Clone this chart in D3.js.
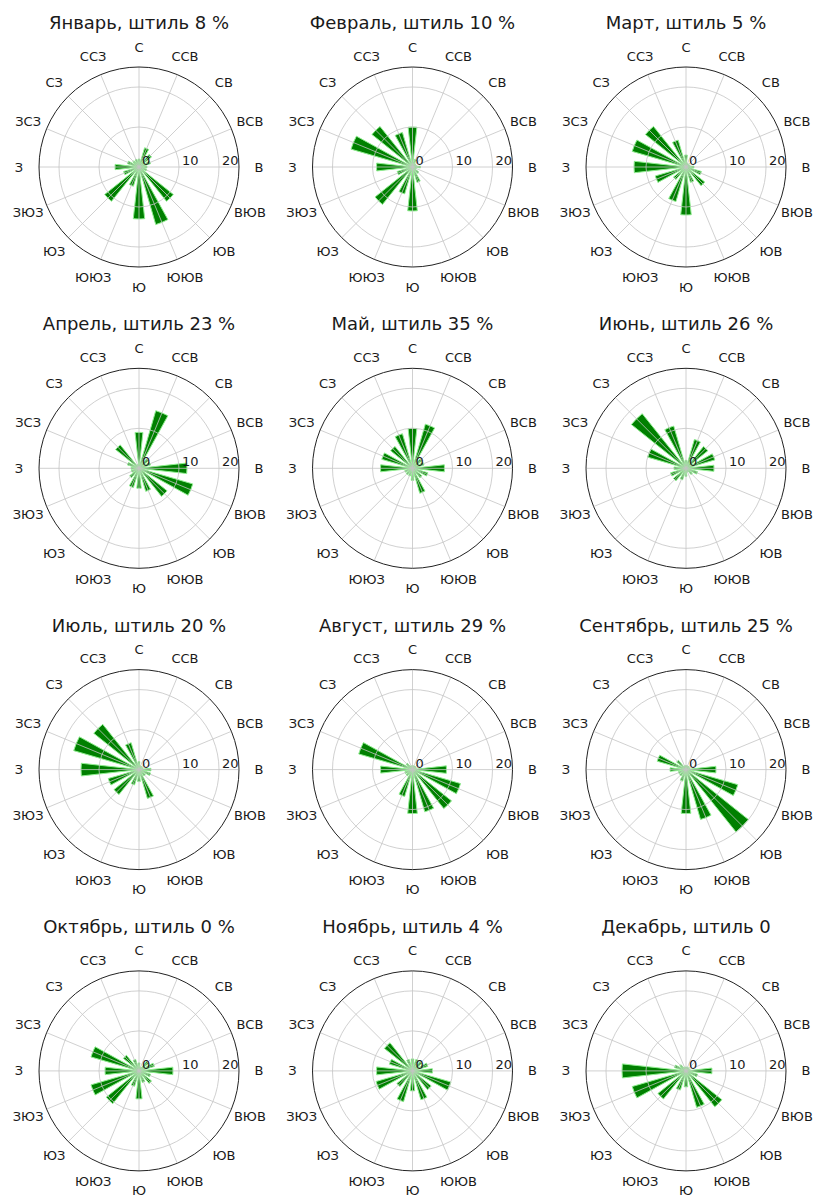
<!DOCTYPE html>
<html>
<head>
<meta charset="utf-8">
<script src="https://cdn.jsdelivr.net/npm/d3@7"></script>
<style>
  html, body { margin: 0; padding: 0; background: #fff; }
  text { font-family: "DejaVu Sans", sans-serif; fill: #1a1a1a; }
</style>
</head>
<body>
<svg id="chart" width="814" height="1198"></svg>
<script>
const directions = ["С","ССВ","СВ","ВСВ","В","ВЮВ","ЮВ","ЮЮВ","Ю","ЮЮЗ","ЮЗ","ЗЮЗ","З","ЗСЗ","СЗ","ССЗ"];
const months = ["Январь","Февраль","Март","Апрель","Май","Июнь","Июль","Август","Сентябрь","Октябрь","Ноябрь","Декабрь"];
const calmLabels = ["8 %","10 %","5 %","23 %","35 %","26 %","20 %","29 %","25 %","0 %","4 %","0"];
const radialTicks = [0, 10, 20];

const jan = [2, 5, 4, 3, 2, 2, 11, 15, 13, 5, 11, 4, 6, 3, 2, 2];
const feb = [10, 2, 1, 1, 2, 1, 2, 4, 11, 7, 12, 4, 9, 16, 13, 9];
const mar = [3, 1, 1, 1, 2, 4, 6, 4, 12, 9, 4, 8, 13, 14, 13, 7];
const apr = [9, 15, 3, 3, 12, 14, 9, 6, 5, 5, 3, 2, 2, 3, 7.5, 1];
const may = [10, 11.5, 3, 3, 8, 4, 3, 6.5, 3, 2, 2, 2, 8, 8, 7, 9];
const jun = [2, 7.5, 7, 7.5, 7, 3, 2, 1, 2, 3, 4, 4, 3, 10, 17.5, 11];
const jul = [2, 1, 1, 1, 3, 3, 2, 7.5, 3, 4, 8, 8, 14.5, 17, 14.5, 7];
const aug = [1, 1, 1, 1, 8.5, 12.5, 12.5, 11, 11, 7, 2, 2, 8, 14, 2, 1];
const sep = [1, 1, 1, 1, 7.5, 13.5, 20, 13, 11, 3, 2, 2, 4, 7.5, 3, 1];
const oct = [2, 1, 3, 4, 8.5, 3, 4, 3, 7, 4, 10.5, 12.5, 8.5, 12.5, 5, 3];
const nov = [3, 3, 3, 4, 5, 10, 6, 7.5, 5, 8, 5, 9.5, 9, 6, 9, 3];
const dec = [1, 1, 1, 1, 6.5, 3, 11.5, 9.5, 4, 5, 9, 14, 16, 3, 2, 1];

const monthValues = [jan, feb, mar, apr, may, jun, jul, aug, sep, oct, nov, dec];

const svg = d3.select("#chart");
const R = 100;
const rMax = 25;
const r = d3.scaleLinear().domain([0, rMax]).range([0, R]);
const angle = d3.scaleBand().domain(directions).range([0, 2 * Math.PI]);
const step = 2 * Math.PI / directions.length;
const barWidth = step * 0.56;
const theta = d => angle(d);

const arc = d3.arc()
  .innerRadius(0)
  .outerRadius(d => r(d.v))
  .startAngle(d => theta(d.dir) - barWidth / 2)
  .endAngle(d => theta(d.dir) + barWidth / 2);

months.forEach((m, i) => {
  const col = i % 3, row = Math.floor(i / 3);
  const cx = 139 + col * 273.5;
  const cy = 167 + row * 301.3;
  const g = svg.append("g").attr("transform", `translate(${cx},${cy})`);

  const data = directions.map((dir, k) => ({dir, v: monthValues[i][k]}));

  g.selectAll("path.bar").data(data).enter().append("path")
    .attr("class", "bar")
    .attr("d", arc)
    .attr("fill", "#008000")
    .attr("stroke", "#90ee90")
    .attr("stroke-width", 1);

  g.selectAll("circle.grid").data(radialTicks.filter(t => t > 0)).enter().append("circle")
    .attr("r", d => r(d))
    .attr("fill", "none")
    .attr("stroke", "#c4c4c4")
    .attr("stroke-width", 0.8);

  g.selectAll("line.spoke").data(directions).enter().append("line")
    .attr("x1", 0).attr("y1", 0)
    .attr("x2", d => R * Math.sin(theta(d)))
    .attr("y2", d => -R * Math.cos(theta(d)))
    .attr("stroke", "#c4c4c4")
    .attr("stroke-width", 0.8);

  g.append("circle")
    .attr("r", R)
    .attr("fill", "none")
    .attr("stroke", "#222")
    .attr("stroke-width", 1);

  g.selectAll("text.rtick").data(radialTicks).enter().append("text")
    .attr("x", d => r(d) + 3)
    .attr("y", -2)
    .attr("font-size", 13)
    .text(d => d);

  g.selectAll("text.dir").data(directions).enter().append("text")
    .attr("x", d => 120 * Math.sin(theta(d)))
    .attr("y", d => -120 * Math.cos(theta(d)))
    .attr("text-anchor", "middle")
    .attr("dominant-baseline", "central")
    .attr("font-size", 13)
    .text(d => d);

  g.append("text")
    .attr("x", 0)
    .attr("y", -138)
    .attr("text-anchor", "middle")
    .attr("font-size", 18)
    .text(`${m}, штиль ${calmLabels[i]}`);
});
</script>
</body>
</html>
